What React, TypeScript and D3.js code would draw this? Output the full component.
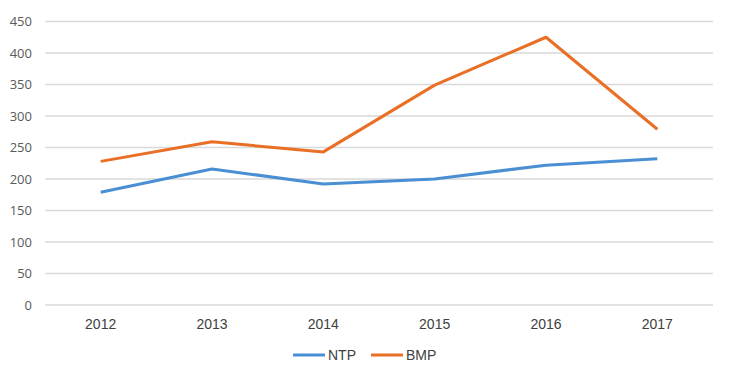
import React from "react";
import * as d3 from "d3";

const years = ["2012", "2013", "2014", "2015", "2016", "2017"];
const ntp = [179, 216, 192, 200, 222, 232];
const bmp = [228, 259, 243, 349, 425, 279];
const yTicks = [0, 50, 100, 150, 200, 250, 300, 350, 400, 450];
const seriesNames = ["NTP", "BMP"];
const seriesColors = ["#4a8fd3", "#ea6f26"];

export default function App() {
  const W = 730, H = 377;
  const left = 45, right = 713, top = 21.5, bottom = 305;
  const x = d3.scaleBand<string>().domain(years).range([left, right]);
  const y = d3.scaleLinear().domain([0, 450]).range([bottom, top]);
  const line = d3
    .line<number>()
    .x((_, i) => (x(years[i]) as number) + x.bandwidth() / 2)
    .y((d) => y(d));
  const series = [ntp, bmp];
  const yFont = "'Open Sans', 'Liberation Sans', sans-serif";
  const font = "'Liberation Sans', Arial, sans-serif";
  return (
    <svg width={W} height={H} style={{ position: "absolute", left: 0, top: 0, background: "#fff" }}>
      {yTicks.map((t) => (
        <g key={t}>
          <line x1={left} x2={right} y1={y(t)} y2={y(t)} stroke="#d9d9d9" strokeWidth={1.5} />
          <text x={32} y={y(t)} dy="0.35em" textAnchor="end" fontFamily={yFont} fontSize={13} fill="#595959">
            {t}
          </text>
        </g>
      ))}
      {years.map((yr) => (
        <text key={yr} x={(x(yr) as number) + x.bandwidth() / 2} y={324} dy="0.35em" textAnchor="middle" fontFamily={font} fontSize={14} fill="#404040">
          {yr}
        </text>
      ))}
      {series.map((s, i) => (
        <path key={i} d={line(s) || ""} fill="none" stroke={seriesColors[i]} strokeWidth={3} strokeLinejoin="round" />
      ))}
      {seriesNames.map((n, i) => {
        const lx = 293 + i * 78;
        return (
          <g key={n}>
            <line x1={lx} x2={lx + 32} y1={355} y2={355} stroke={seriesColors[i]} strokeWidth={3} />
            <text x={lx + 35} y={355} dy="0.35em" fontFamily={font} fontSize={14} fill="#404040">
              {n}
            </text>
          </g>
        );
      })}
    </svg>
  );
}
